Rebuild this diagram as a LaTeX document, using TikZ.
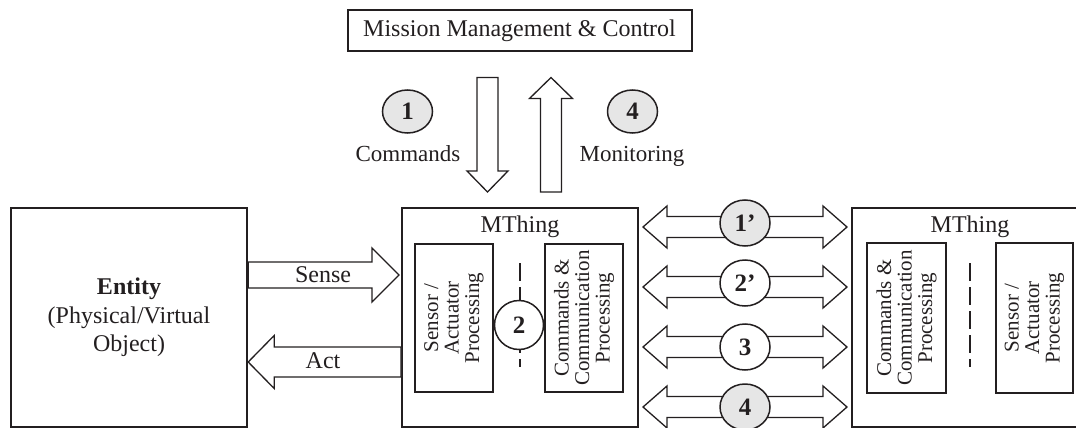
\documentclass[tikz,border=0pt]{standalone}
\usepackage{fontspec}
\setmainfont{Liberation Serif}
\usetikzlibrary{calc,shapes.geometric}
\definecolor{ink}{HTML}{231F20}
\definecolor{badgegray}{HTML}{E6E6E6}

% horizontal block arrow: tail, tip, shaft half-height, head half-height, signed head length
\newcommand\hblock[5]{%
  \draw[blockarrow] let \p1=(#1), \p2=(#2) in
    (\x1,{\y1+#3}) -- ({\x2-(#5)},{\y1+#3}) -- ({\x2-(#5)},{\y1+#4}) -- (\x2,\y1)
    -- ({\x2-(#5)},{\y1-#4}) -- ({\x2-(#5)},{\y1-#3}) -- (\x1,{\y1-#3}) -- cycle;}
% vertical block arrow: tail, tip, shaft half-width, head half-width, signed head length
\newcommand\vblock[5]{%
  \draw[blockarrow] let \p1=(#1), \p2=(#2) in
    ({\x1+#3},\y1) -- ({\x1+#3},{\y2-(#5)}) -- ({\x1+#4},{\y2-(#5)}) -- (\x1,\y2)
    -- ({\x1-#4},{\y2-(#5)}) -- ({\x1-#3},{\y2-(#5)}) -- ({\x1-#3},\y1) -- cycle;}
% two-headed block arrow: left tip, right tip, shaft half-height, head half-height, head length
\newcommand\dblock[5]{%
  \draw[blockarrow] let \p1=(#1), \p2=(#2) in
    (\x1,\y1) -- ({\x1+#5},{\y1+#4}) -- ({\x1+#5},{\y1+#3}) -- ({\x2-#5},{\y1+#3})
    -- ({\x2-#5},{\y1+#4}) -- (\x2,\y1) -- ({\x2-#5},{\y1-#4}) -- ({\x2-#5},{\y1-#3})
    -- ({\x1+#5},{\y1-#3}) -- ({\x1+#5},{\y1-#4}) -- cycle;}

\begin{document}
\begin{tikzpicture}[x=1pt,y=-1pt,
  every node/.style={text=ink},
  lbl/.style={font=\fontsize{24}{28.5}\selectfont},
  sidelbl/.style={font=\fontsize{23}{28}\selectfont},
  box/.style={draw=ink, line width=2pt, inner sep=0pt,
    minimum width=236pt, minimum height=219pt},
  procbox/.style={draw=ink, line width=1.4pt, rotate=90, align=center, inner sep=0pt,
    font=\fontsize{21}{20.5}\selectfont},
  blockarrow/.style={draw=ink, line width=1.3pt, fill=white, line join=miter},
  badge/.style={draw=ink, line width=1.5pt, ellipse, inner sep=0pt,
    font=\fontsize{25}{25}\selectfont\bfseries},
  linkline/.style={draw=ink, line width=1.3pt, dash pattern=on 18pt off 6pt}
]
\useasboundingbox (0,0) rectangle (1076,428);
\clip (0,0) rectangle (1076,428);

% top controller
\node[draw=ink, line width=2pt, minimum width=344pt, minimum height=41pt, inner sep=0pt, lbl]
  (mmc) at (519.5,31) {Mission Management \& Control};

% main blocks
\node[box, line width=2.4pt, lbl, align=center] (entity) at (129,317.5)
  {\textbf{Entity}\\(Physical/Virtual\\Object)};
\node[box] (mt1) at (520,317.5) {};
\node[box] (mt2) at (970,317.5) {};
\node[lbl, anchor=base] (mt1name) at (520,232) {MThing};
\node[lbl, anchor=base] (mt2name) at (970,232) {MThing};

% processing units inside the MThings
\node[procbox, minimum width=148pt, minimum height=78pt] (sa1) at (454,318)
  {Sensor /\\Actuator\\Processing};
\node[procbox, minimum width=148pt, minimum height=78pt] (cc1) at (584,318)
  {Commands \&\\Communication\\Processing};
\node[procbox, minimum width=150pt, minimum height=79pt] (cc2) at (906.5,318)
  {Commands \&\\Communication\\Processing};
\node[procbox, minimum width=150pt, minimum height=77pt] (sa2) at (1034.5,318)
  {Sensor /\\Actuator\\Processing};

% internal links
\draw[linkline] ([yshift=54.5pt]mt1.center) -- ([yshift=-49.5pt]mt1.center);
\draw[linkline] ([yshift=54.5pt]mt2.center) -- ([yshift=-49.5pt]mt2.center);
\node[badge, circle, fill=white, minimum size=49pt] (c2) at (519,325) {2};

% commands down / monitoring up
\coordinate (cmdtail) at ([xshift=-32pt,yshift=-25pt]mmc.south);
\coordinate (cmdtip)  at ([xshift=-32.5pt,yshift=15pt]mt1.north);
\coordinate (montail) at ([xshift=31pt,yshift=15pt]mt1.north);
\coordinate (montip)  at ([xshift=31.5pt,yshift=-25pt]mmc.south);
\vblock{cmdtail}{cmdtip}{10.5pt}{20.5pt}{-21pt}
\vblock{montail}{montip}{10.5pt}{21.5pt}{21pt}
\node[badge, fill=badgegray, minimum width=50pt, minimum height=43pt] (n1) at (407.5,111.5) {1};
\node[badge, fill=badgegray, minimum width=50pt, minimum height=43pt] (n4) at (632.5,111.5) {4};
\node[sidelbl, anchor=base] (cmdlbl) at (408,161) {Commands};
\node[sidelbl, anchor=base] (monlbl) at (632,161) {Monitoring};

% sense / act
\hblock{[yshift=42.5pt]entity.east}{[yshift=42.5pt,xshift=-2pt]mt1.west}{13pt}{27pt}{27pt}
\hblock{[yshift=-44.5pt]mt1.west}{[yshift=-44.5pt]entity.east}{15pt}{26.5pt}{-26pt}
\node[lbl, anchor=base] (senselbl) at (323,282) {Sense};
\node[lbl, anchor=base] (actlbl) at (323,368) {Act};

% links between MThings
\coordinate (l1a) at ([xshift=4pt,yshift=90.5pt]mt1.east);
\coordinate (l1b) at ([xshift=-4pt,yshift=90.5pt]mt2.west);
\coordinate (l2a) at ([xshift=4pt,yshift=30.5pt]mt1.east);
\coordinate (l2b) at ([xshift=-4pt,yshift=30.5pt]mt2.west);
\coordinate (l3a) at ([xshift=4pt,yshift=-29.5pt]mt1.east);
\coordinate (l3b) at ([xshift=-4pt,yshift=-29.5pt]mt2.west);
\coordinate (l4a) at ([xshift=4pt,yshift=-89.5pt]mt1.east);
\coordinate (l4b) at ([xshift=-4pt,yshift=-89.5pt]mt2.west);
\dblock{l1a}{l1b}{10.5pt}{21pt}{24pt}
\dblock{l2a}{l2b}{10.5pt}{21pt}{24pt}
\dblock{l3a}{l3b}{10.5pt}{21pt}{24pt}
\dblock{l4a}{l4b}{10.5pt}{21pt}{24pt}
\node[badge, fill=badgegray, minimum width=50pt, minimum height=46pt] (p1) at ($(l1a)!0.5!(l1b)+(0,-4)$) {1’};
\node[badge, fill=white, minimum width=50pt, minimum height=46pt] (p2) at ($(l2a)!0.5!(l2b)+(0,-4)$) {2’};
\node[badge, fill=white, minimum width=50pt, minimum height=46pt] (p3) at ($(l3a)!0.5!(l3b)$) {3};
\node[badge, fill=badgegray, minimum width=50pt, minimum height=46pt] (p4) at ($(l4a)!0.5!(l4b)$) {4};
\end{tikzpicture}
\end{document}
